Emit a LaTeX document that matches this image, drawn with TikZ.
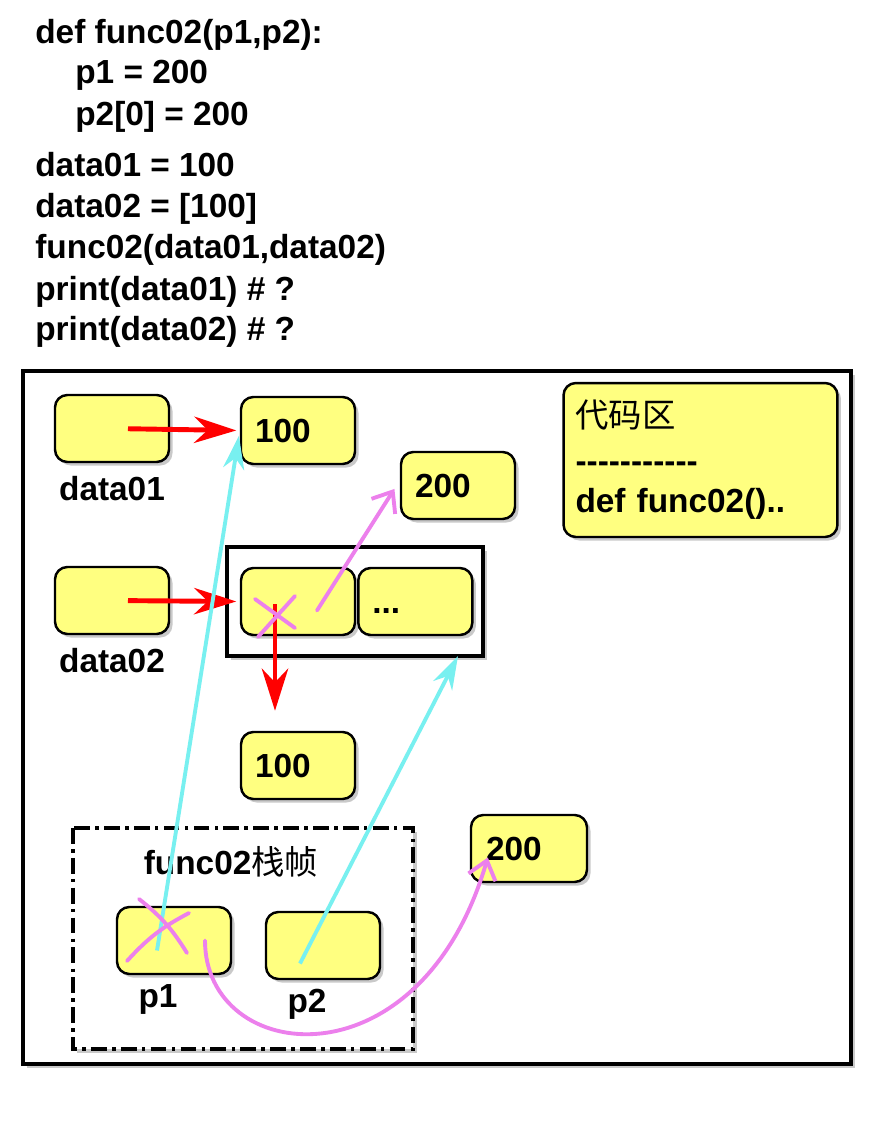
\documentclass[tikz,border=0pt]{standalone}
\usepackage{fontspec}
\setmainfont{Liberation Sans}
\newfontfamily\cjk{Noto Sans CJK SC}
\usetikzlibrary{arrows.meta, positioning, shadows}

\definecolor{boxyellow}{RGB}{255,255,128}
\definecolor{refcyan}{RGB}{120,240,240}
\definecolor{refviolet}{RGB}{236,128,236}

\begin{document}
\begin{tikzpicture}[
      x=0.02cm, y=-0.02cm,
      font=\fontsize{19}{23.2}\selectfont\bfseries,
      node distance=2pt,
      shadowed/.style={drop shadow={shadow xshift=2pt, shadow yshift=-2pt, opacity=0.35, fill=black!60}},
      cell/.style={draw, line width=1.4pt, rounded corners=7pt, fill=boxyellow, shadowed,
                   minimum width=2.28cm, minimum height=1.34cm, inner xsep=0.28cm,
                   text width=1.72cm, align=left},
      lbl/.style={inner sep=0pt},
      codeline/.style={inner sep=0pt, anchor=base west},
      frame/.style={draw, fill=white, line width=2.3pt, shadowed},
      redarr/.style={-{Stealth[length=24pt, width=15pt]}, red, line width=2.8pt},
      cyanarr/.style={-{Stealth[length=19pt, width=12pt]}, refcyan, line width=2.2pt},
      violetarr/.style={-{Straight Barb[length=10pt, width=16pt]}, refviolet, line width=2.2pt, line cap=round},
      cross/.style={refviolet, line width=2.2pt, line cap=round}
    ]

    \useasboundingbox (0,0) rectangle (884,1127);

    % source code
    \node[codeline] (l1) at (35,43) {def func02(p1,p2):};
    \node[codeline] (l2) at (75,83) {p1 = 200};
    \node[codeline] (l3) at (75,125) {p2[0] = 200};
    \node[codeline] (l4) at (35,176) {data01 = 100};
    \node[codeline] (l5) at (35,217) {data02 = [100]};
    \node[codeline] (l6) at (35,258) {func02(data01,data02)};
    \node[codeline] (l7) at (35,300) {print(data01) \# ?};
    \node[codeline] (l8) at (35,340) {print(data02) \# ?};

    % memory
    \draw[frame] (23,371) rectangle (851,1064);

    \node[cell] (d01) at (112,428.5) {};
    \node[lbl, below=7pt of d01] (d01lbl) {data01};
    \node[cell] (d02) at (112,600.5) {};
    \node[lbl, below=7pt of d02] (d02lbl) {data02};

    \node[cell] (v100a) at (298,430.5) {100};
    \node[cell] (v200a) at (458,485.5) {200};

    \node[cell, minimum width=5.38cm, minimum height=3.08cm, text width=5.0cm, inner xsep=0.24cm] (code) at (700.5,460)
      {{\cjk\mdseries 代码区}\\[2pt]-{}-{}-{}-{}-{}-{}-{}-{}-{}-{}-\\def func02()..};

    \draw[frame] (227,547) rectangle (483,656);
    \coordinate (lst) at (483,656);
    \node[cell] (c0) at (298,601.5) {};
    \node[cell, right=0.5pt of c0] (c1) {...\vphantom{0}};

    \node[cell] (v100b) at (298,765.5) {100};
    \node[cell, inner xsep=0.3cm] (v200b) at (529,848.5) {200};

    % func02 stack frame
    \draw[shadowed, fill=white, line width=2.2pt, dash pattern=on 9pt off 3pt on 2pt off 3pt]
      (73,828) rectangle (413,1049);
    \node[lbl] (sf) at (231,862) {func02{\cjk\mdseries 栈帧}};
    \node[cell] (p1) at (174,940.5) {};
    \node[lbl, below=5pt of p1, xshift=-0.32cm] (p1lbl) {p1};
    \node[cell] (p2) at (323,945.5) {};
    \node[lbl, below=5pt of p2, xshift=-0.32cm] (p2lbl) {p2};

    % references
    \coordinate (x0) at (275,604);
    \draw[redarr, shorten <=0.32cm, shorten >=2pt] (d01.center) -- (v100a.west);
    \draw[redarr, shorten <=0.32cm, shorten >=2pt] (d02.center) -- (c0.west);
    \draw[redarr, shorten >=0.4cm] (x0) -- (x0 |- v100b.north);

    \draw[cyanarr, shorten >=3pt] ([shift={(-17,10)}]p1.center) -- (v100a.west);
    \draw[cyanarr] ([shift={(-23,18)}]p2.center) -- ([xshift=-0.5cm]lst);

    \draw[violetarr, shorten >=0.2cm] ([shift={(19,9)}]c0.center) -- ([yshift=0.1cm]v200a.west);
    \draw[violetarr] ([shift={(31,0)}]p1.center) .. controls (205,1065) and (420,1090) .. ([shift={(18,9)}]v200b.west);

    % crossed out
    \draw[cross] (255,599) -- (295,628);
    \draw[cross] (258,637) -- (295,596);
    \draw[cross] (139,899) to[bend left=10] (187,953);
    \draw[cross] (127,961) to[bend left=10] (189,913);

  \end{tikzpicture}
\end{document}
